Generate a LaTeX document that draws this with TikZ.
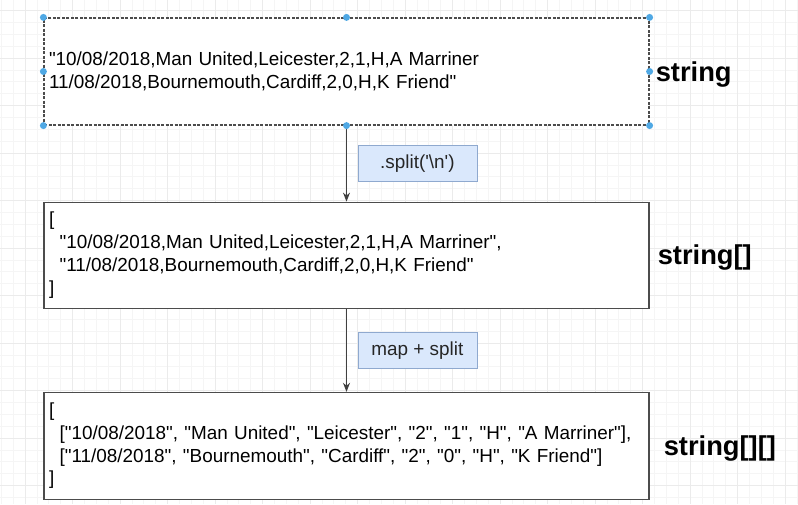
\documentclass[tikz,border=0pt]{standalone}
\usepackage{fontspec}
\setmainfont{Liberation Sans}[Ligatures=TeXOff]
\usetikzlibrary{positioning, arrows.meta}
\definecolor{opfill}{HTML}{DAE8FC}
\definecolor{opline}{HTML}{8FA9CF}
\definecolor{handleblue}{HTML}{4FA8E4}
\newcommand{\bodyfont}{\fontsize{18.9}{22.8}\selectfont}
\newcommand{\ind}{\hspace*{.56em}}

\begin{document}
\begin{tikzpicture}[x=1pt, y=-1pt,
    databox/.style={rectangle, draw=black!70, line width=1.2pt, fill=white, minimum width=605pt, minimum height=107pt, text width=595pt, inner xsep=5pt, align=left, font=\bodyfont},
    pickedbox/.style={dash pattern=on 3pt off 1.5pt},
    opbox/.style={rectangle, draw=opline, fill=opfill, line width=0.8pt, minimum width=119pt, minimum height=36pt, font=\bodyfont, text=black!85},
    typelabel/.style={font=\bfseries\fontsize{27.3}{30}\selectfont, inner sep=0pt, yshift=-2.5pt},
    flow/.style={-{Stealth[length=9pt, width=7pt]}, line width=1pt, draw=black!75},
    gridminor/.style={draw=black!4, line width=0.6pt},
    gridmajor/.style={draw=black!8, line width=0.8pt}]
    \useasboundingbox (0,0) rectangle (798,504);

    % background grid
    \foreach \i in {0,...,67} \draw[gridminor] ({1.25+11.875*\i},0) -- ++(0,504);
    \foreach \i in {0,...,42} \draw[gridminor] (0,{10.5+11.875*\i}) -- ++(798,0);
    \foreach \i in {0,...,16} \draw[gridmajor] ({25+47.5*\i},0) -- ++(0,504);
    \foreach \i in {0,...,10} \draw[gridmajor] (0,{10.5+47.5*\i}) -- ++(798,0);

    \node[databox, pickedbox] at (346.5,71.5) (raw) {"10/08/2018,Man United,Leicester,2,1,H,A Marriner\\11/08/2018,Bournemouth,Cardiff,2,0,H,K Friend"};
    \node[databox, minimum height=106pt, below=76pt of raw] (rows) {[\\\ind"10/08/2018,Man United,Leicester,2,1,H,A Marriner",\\\ind"11/08/2018,Bournemouth,Cardiff,2,0,H,K Friend"\\]};
    \node[databox, below=83pt of rows] (fields) {[\\\ind["10/08/2018", "Man United", "Leicester", "2", "1", "H", "A Marriner"],\\\ind["11/08/2018", "Bournemouth", "Cardiff", "2", "0", "H", "K Friend"]\\]};

    \node[typelabel, right=6pt of raw] (rawtype) {string};
    \node[typelabel, right=8pt of rows] (rowstype) {string[]};
    \node[typelabel, right=14pt of fields] (fieldstype) {string[][]};

    \draw[flow] (raw) -- node[opbox, right=11pt] (splitop) {.split('\textbackslash n')} (rows);
    \draw[flow] (rows) -- node[opbox, right=11pt] (mapop) {map + split} (fields);

    % selection handles
    \foreach \a in {north west, north, north east, east, south east, south, south west, west}
        \fill[handleblue] (raw.\a) circle (3.5pt);
\end{tikzpicture}
\end{document}
